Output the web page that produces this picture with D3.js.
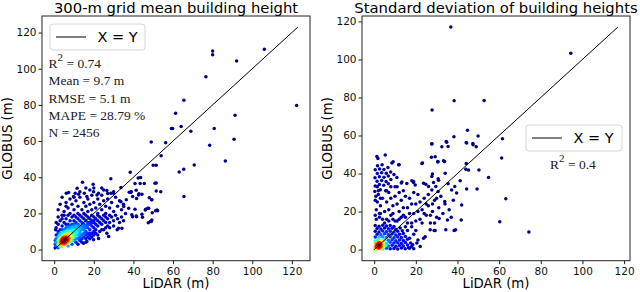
<!DOCTYPE html>
<html>
<head>
<meta charset="utf-8">
<script src="https://cdn.jsdelivr.net/npm/d3@7"></script>
<style>
  body { margin: 0; background: #fff; }
  text { font-family: "DejaVu Sans", sans-serif; }
</style>
</head>
<body>
<div id="chart"></div>
<script>
// tick values (same on both axes, both panels)
var tickVals = [0, 20, 40, 60, 80, 100, 120];

// panel titles and labels
var titles = ["300-m grid mean building height", "Standard deviation of building heights"];
var xLabel = "LiDAR (m)";
var yLabel = "GLOBUS (m)";

// statistics shown in the panels
var meanStats = [["R", "2", " = 0.74"], ["Mean = 9.7 m"], ["RMSE = 5.1 m"], ["MAPE = 28.79 %"], ["N = 2456"]];
var stdStats = [["R", "2", " = 0.4"]];

// [LiDAR, GLOBUS] - scattered points
var meanOutliers = [
  [80,109.8],[80,107.7],[106.1,110.7],[92.1,104.3],[76.6,95.6],[122.4,79.6],[65.5,82.5],[61.3,75.4],
  [91.3,74.3],[59.2,66.9],[59.8,66.9],[64.1,68],[69,65.4],[80.8,67],[90.8,61],[78.5,57.7],[49,59.5],
  [56.3,59],[54,51.9],[86.4,49],[70.7,46.8],[50,46.6],[51.5,46.6],[65.4,44.4],[63.1,42.9],[42.4,39.6],
  [43.6,39.8],[40.8,36.5],[43.4,36.6],[45.5,36.5],[51.5,36.8],[41.4,32.8],[51.5,32.4],[53.8,32],
  [38.7,31.7],[42.8,30.8],[65.5,29.3],[39.6,29.3],[41.6,28.2],[48,28.7],[49.2,27.6],[38.4,42.8],
  [28.6,39.1],[14.3,37.2],[19.7,36.1],[50.9,36.7],[33.7,34.3],[11.6,33.9],[40.8,22.3],[46.2,22.3],
  [47.2,22.9],[51.2,21.5],[52.2,21.5],[49.5,20.4],[39.6,18.2],[41.6,18.2],[44.6,17.9],[49,15.5],
  [47.5,14.9],[0.7,10.9],[37.9,31.7],[38.9,32],[42.6,30.2],[44.3,30.6],[49.3,27.5],[51.9,21.9],
  [46,21.9],[47.7,22.9],[48.5,15.5],[49.3,16.4],[44.3,19.6],[41.4,18.6],[39.2,19.2],[37.6,22.9],
  [35.1,23.8],[36.4,27.5],[32.5,11.8],[34.2,11.8],[31.8,10.9],[26.6,9],[27.5,7.2],[19.9,5.4],
  [22.4,6.1],[14.8,3.5],[16.5,4.4],[13.1,5.4],[6.1,31.2],[7.3,31.5],[10.6,31.2],[12.3,30.6],
  [9.8,29.3],[15.2,31.2],[16.5,29.3],[19.9,32],[21.6,30.2],[22.4,31.2],[26.6,32.6],[28.6,31.2],
  [30,31.2],[33.7,26.5]
];

// [LiDAR, GLOBUS] left panel - main cloud
var meanCloud = [
  [2,22],[3,25],[4,29],[5,21],[6,26],[7,23],[8,28],[8,20],[9,25],[10,22],[11,27],[12,24],[12,20],
  [13,29],[14,22],[15,26],[15,20],[16,24],[17,28],[17,21],[18,25],[19,22],[19,30],[20,26],[21,23],
  [22,28],[22,20],[23,25],[24,22],[24,30],[25,27],[26,24],[26,20],[27,28],[28,23],[29,26],[30,21],
  [31,29],[32,24],[33,27],[34,22],[35,25],[36,20],[30,32],[27,31],[20,34],[18,33],[13,32],[16,34],
  [10,29],[6,24],[4,19],[25,33],[24,34],
  [1,12],[1,15],[2,10],[2,14],[2,18],[3,11],[3,16],[4,13],[4,17],[5,10],[5,15],[5,19],[6,12],[6,17],
  [7,10],[7,14],[7,19],[8,12],[8,16],[9,11],[9,14],[9,18],[10,10],[10,13],[10,16],[10,19],[11,12],
  [11,15],[11,18],[12,11],[12,14],[12,17],[13,10],[13,13],[13,16],[13,19],[14,12],[14,15],[14,18],
  [15,11],[15,14],[15,17],[16,10],[16,13],[16,16],[16,19],[17,12],[17,15],[17,18],[18,11],[18,14],
  [18,17],[19,13],[19,16],[19,19],[20,12],[20,15],[20,18],[21,14],[21,17],[22,13],[22,16],[22,19],
  [23,15],[23,18],[24,14],[24,17],[25,16],[25,19],[26,15],[26,18],[27,17],[28,15],[28,19],[29,18],
  [30,16],[31,19],[32,17],[33,15],[34,18],[30,13],[27,13],[24,11],[21,11],[18,9],[35,16],
  [0.5,1],[1,2],[1,4],[1,6],[1,8],[2,1],[2,3],[2,5],[2,7],[2,9],[3,2],[3,4],[3,6],[3,8],[4,2],[4,3],
  [4,5],[4,7],[4,9],[5,3],[5,4],[5,6],[5,8],[6,3],[6,5],[6,7],[6,9],[7,4],[7,6],[7,8],[8,4],[8,6],
  [8,8],[9,5],[9,7],[9,9],[10,5],[10,7],[10,9],[11,6],[11,8],[12,6],[12,8],[13,5],[13,7],[13,9],
  [14,6],[14,8],[15,7],[15,9],[16,6],[16,8],[17,7],[17,9],[18,6],[18,8],[19,7],[19,9],[20,8],[21,9],
  [22,8],[23,10],[25,11],[26,12],[28,12],[20,10],[16,4],[14,4],[11,4],[12,3],[9,3],[7,2],[0.5,3],[0.5,5],
  [11,11],[12,12],[13,12],[14,13],[15,13],[13,11],[9,12],[8,10],[7,11],[6,10],[8,13],[10,12],[12,13],
  [14,11],[16,12],[17,14],[18,15],[19,15],[20,16],[15,12],[10,14],[7,12],[5,11],[6,14],[3,9],[4,11]
];

// [LiDAR, GLOBUS] left panel - dense core near the origin
var meanCore = [
  [2.5,2],[3,2.5],[3.5,3],[4,3.5],[4.5,4],[5,4.5],[5.5,5],[6,5.5],[6.5,6],[7,6.5],[3,3.5],[3.5,4],
  [4,4.5],[4.5,5],[5,5.5],[5.5,6],[6,6.5],[4,2.5],[4.5,3],[5,3.5],[5.5,4],[6,4.5],[6.5,5],[7,5.5],
  [7.5,6],[8,7],[8.5,7.5],[9,8],[3.5,2],[5,2.5],[6,3.5],[7,4.5],[8,5.5],[9,6.5],[10,8],[2,2.5],
  [2.5,3.5],[3,4.5],[3.5,5.5],[4,6],[4.5,6.5],[5,7],[6,8],[7,7.5],[8,9],[10,10.5],[11,10],[12,10.5],
  [9,10],[11,9],[4.8,4.8],[5.2,5.2],[4.2,4.2],[5.8,5.8],[3.8,3.8],[6.3,6.3],[5,5],[4.5,4.5],[5.5,5.5],[6,6]
];

// [LiDAR, GLOBUS] right panel - scattered points
var stdOutliers = [
  [36.8,117.1],[94.4,103.2],[27.8,73.4],[38.4,78.3],[52.8,78.4],[27.6,55.5],[38.3,59.3],[44.8,62.8],
  [49.9,59.7],[44.2,56.3],[47.4,55.8],[49,54.1],[61.6,58.3],[32.5,54.1],[34.6,56.8],[29.3,48.8],
  [30.6,46.3],[33.8,46.3],[22.9,45.3],[44.2,45.3],[44,42.3],[61.2,48.2],[50.3,41.8],[54.9,37.9],
  [41.3,36.2],[30.9,36.5],[12,44.6],[9.1,46.2],[5.3,49.8],[1.8,47.9],[18.1,36.2],[18.9,35.3],
  [15.7,34.7],[10.9,37.9],[13.3,35.6],[24.8,34.4],[28.5,35.3],[63.2,26.7],[60.3,14.7],[74.3,9.2],
  [49.4,31.9],[42,23.5],[41.8,15.6],[39.1,10.4],[38.4,10],[35.2,15.6],[34.4,10.4],[28.8,10],
  [31.2,16.3],[33.9,25.3],[30.7,30.5],[29.6,33.2],[30.7,37.2],[39.6,29.7],[38.7,33.2],[37.2,31.4],
  [44.4,31.8],[35.5,34.6],[27.7,38.4],[27.5,48.6],[23.2,45.5],[27.8,55.6],[34.8,56.5],[35.5,54.2],
  [44.4,56],[47.5,55.1],[1.3,48.9],[30.6,46],[33.3,46.7],[28,39.7],[34.1,40.2],[45.3,41.9],
  [8.5,45.5],[11.7,44.6],[18.9,35.8],[19.7,34],[23.7,34.9],[26.1,33.2],[27.7,31.4],[26.9,10.4],
  [29.3,10],[23.7,6],[24.5,6.8],[20.5,3.4],[22.1,1.6]
];

// [LiDAR, GLOBUS] right panel - cluster around GLOBUS = 40 and sparse middle
var stdCloud = [
  [0.5,33.5],[2.5,34.2],[4.6,33.8],[6.8,34.6],[1.4,35.9],[3.6,36.3],[5.7,35.8],[8,36.9],[0.4,37.8],
  [2.5,38.3],[4.7,38],[6.8,38.7],[1.5,40],[3.6,40.4],[5.8,40.1],[7.9,40.8],[0.5,42],[2.6,42.4],
  [4.7,42.1],[6.6,43.2],[1.6,44.1],[3.8,44.6],[9.5,39.5],[0.3,30.5],[3,31.5],[5.5,31],
  [0.5,18],[1,21],[1.5,25],[0.8,28],[2,31],[2.5,19],[1,16],[3,23],[0.5,26],[2,29],[1.5,33],[3,27],[2.5,17],
  [4,16],[5,20],[6,25],[7,30],[8,18],[9,23],[10,28],[11,15],[12,20],[13,26],[14,31],[15,17],[16,22],
  [17,27],[18,14],[19,19],[20,24],[21,29],[22,16],[23,21],[24,27],[25,18],[26,23],[27,14],[28,20],
  [29,26],[30,17],[31,22],[32,28],[33,19],[34,24],[36,21],[38,26],[37,17],[5,14],[7,21],[8,27],[9,16],
  [10,33],[11,24],[12,30],[13,17],[14,22],[15,28],[16,14],[17,19],[18,24],[19,30],[20,15],[21,20],
  [22,25],[23,14],[24,19],[25,24],[26,29],[27,18],[28,24],[29,14],[30,27],[6,31],[4,27],[3,19],[8,33],
  [13,35],[11,33],[6,16],[7,15],[9,19],[10,15],[12,16],[14,18],
  [16.5,1],[18.5,2.5],[17,6],[19,8],[21,5],[16,10],[18,12],[20,10],[15,12]
];

// [LiDAR, GLOBUS] right panel - dense block near the origin
var stdCore = [
  [0.5,0.4],[2.3,0.6],[4.1,0.3],[5.9,0.7],[7.7,0.4],[9.5,0.6],[11.3,0.3],[13.1,0.8],[14.9,0.5],[17,0.7],[19,0.4],
  [1.4,2.1],[3.2,1.8],[5,2.2],[6.8,1.9],[8.6,2.3],[10.4,1.7],[12.2,2.2],[14,1.9],[16,2.4],[18,1.6],
  [0.5,3.6],[2.3,3.4],[4.1,3.7],[5.9,3.3],[7.7,3.8],[9.5,3.4],[11.3,3.6],[13.1,3.2],[15,3.7],[17.5,3.5],
  [1.4,5.1],[3.2,4.8],[5,5.3],[6.8,4.9],[8.6,5.2],[10.4,4.7],[12.2,5.1],[14,4.8],[16,5.4],
  [0.5,6.6],[2.3,6.3],[4.1,6.8],[5.9,6.4],[7.7,6.7],[9.5,6.2],[11.3,6.6],[13.1,6.3],[15,6.9],
  [1.4,8.1],[3.2,7.8],[5,8.3],[6.8,7.9],[8.6,8.2],[10.4,7.7],[12.2,8.1],[14,8.4],
  [0.5,9.6],[2.3,9.3],[4.1,9.8],[5.9,9.4],[7.7,9.7],[9.5,9.2],[11.3,9.6],[13.5,9.9],
  [1.4,11.1],[3.2,10.8],[5,11.3],[6.8,10.9],[8.6,11.2],[10.4,10.7],[12.5,11.4],
  [0.5,12.6],[2.3,12.3],[4.1,12.8],[5.9,12.4],[7.7,12.7],[9.5,12.2],
  [0.3,0.3],[0.6,0.8],[1,0.5],[1.2,1.2],[0.8,1.6],[1.6,0.9],[2,1.5],[1.5,2],[2.4,2.2],[0.4,2],
  [2.6,0.6],[3,1.2],[1.8,2.8],[0.7,1.1],[1.1,0.2],[1.4,1.5],[2.2,1],[0.2,1.4],[3.2,2.8],[2.8,3.4],
  [1,3],[4,1.5],[3.6,0.4],[0.5,4.5],[1.8,4],[4.4,3],[2,5.5],[5.5,2],[3.5,4.5],[4.5,4.8]
];

// axis limits of each panel (data range plus matplotlib's 5% margin) and X = Y line end
var meanDomain = [-6.15, 129.15], meanLineMax = 123;
var stdDomain = [-5.85, 122.85], stdLineMax = 117;

var W = 640, H = 292;
var svg = d3.select("#chart").append("svg")
    .attr("width", W)
    .attr("height", H);

// matplotlib 'jet'
function jet(t) {
    var c = function(v) { return Math.max(0, Math.min(1, v)); };
    var r = c(1.5 - Math.abs(4 * t - 3)),
        g = c(1.5 - Math.abs(4 * t - 2)),
        b = c(1.5 - Math.abs(4 * t - 1));
    return d3.rgb(r * 255, g * 255, b * 255).toString();
}

var panels = [
    { left: 42, title: titles[0], pts: meanOutliers.concat(meanCloud, meanCore), domain: meanDomain,
      lineMax: meanLineMax, gamma: 1.5 },
    { left: 362, title: titles[1], pts: stdOutliers.concat(stdCloud, stdCore), domain: stdDomain,
      lineMax: stdLineMax, gamma: 1.9 }
];

var pw = 268, plotTop = 16, plotBottom = 260.7;

panels.forEach(function(p) {
    var x = d3.scaleLinear().domain(p.domain).range([p.left, p.left + pw]);
    var y = d3.scaleLinear().domain(p.domain).range([plotBottom, plotTop]);
    var g = svg.append("g");

    // density of each point (gaussian kernel, in pixels)
    var px = p.pts.map(function(d) { return { sx: x(d[0]), sy: y(d[1]), d: d }; });
    var sig = 4.5;
    px.forEach(function(a) {
        var s = 0;
        px.forEach(function(b) {
            var dx = a.sx - b.sx, dy = a.sy - b.sy;
            s += Math.exp(-(dx * dx + dy * dy) / (2 * sig * sig));
        });
        a.dens = s;
    });
    var maxD = d3.max(px, function(a) { return a.dens; });
    var minD = d3.min(px, function(a) { return a.dens; });
    px.sort(function(a, b) { return a.dens - b.dens; });

    g.selectAll("circle").data(px).enter().append("circle")
        .attr("cx", function(a) { return x(a.d[0]); })
        .attr("cy", function(a) { return y(a.d[1]); })
        .attr("r", 1.75)
        .style("fill", function(a) {
            var t = (a.dens - minD) / (maxD - minD);
            return jet(Math.pow(t, p.gamma));
        });

    // X = Y line
    g.append("line")
        .attr("x1", x(0)).attr("y1", y(0))
        .attr("x2", x(p.lineMax)).attr("y2", y(p.lineMax))
        .style("stroke", "#000").style("stroke-width", 1);

    // frame
    g.append("rect")
        .attr("x", p.left).attr("y", plotTop)
        .attr("width", pw).attr("height", plotBottom - plotTop)
        .style("fill", "none").style("stroke", "#222").style("stroke-width", 1);

    var xAxis = g.append("g").attr("transform", "translate(0," + plotBottom + ")")
        .call(d3.axisBottom(x).tickValues(tickVals).tickSize(3.5).tickPadding(3.5));
    var yAxis = g.append("g").attr("transform", "translate(" + p.left + ",0)")
        .call(d3.axisLeft(y).tickValues(tickVals).tickSize(3.5).tickPadding(2));
    [xAxis, yAxis].forEach(function(a) {
        a.select(".domain").remove();
        a.selectAll("text").style("font-size", "10.5px").style("font-family", "DejaVu Sans").style("fill", "#111");
        a.selectAll("line").style("stroke", "#222");
    });

    // title and labels
    g.append("text")
        .attr("x", p.left + pw / 2).attr("y", 13)
        .attr("text-anchor", "middle")
        .style("font-size", "14.8px")
        .text(p.title);
    g.append("text")
        .attr("x", p.left + pw / 2).attr("y", 288)
        .attr("text-anchor", "middle")
        .style("font-size", "13.3px")
        .text(xLabel);
    g.append("text")
        .attr("transform", "translate(" + (p.left - 30.5) + "," + ((plotTop + plotBottom) / 2) + ") rotate(-90)")
        .attr("text-anchor", "middle")
        .style("font-size", "13.3px")
        .text(yLabel);
});

// legends
function legend(bx, by, bw, bh) {
    svg.append("rect")
        .attr("x", bx).attr("y", by).attr("width", bw).attr("height", bh)
        .attr("rx", 3)
        .style("fill", "#fff").style("fill-opacity", 0.85)
        .style("stroke", "#d6d6d6").style("stroke-width", 1);
    svg.append("line")
        .attr("x1", bx + 6).attr("x2", bx + 36)
        .attr("y1", by + bh / 2).attr("y2", by + bh / 2)
        .style("stroke", "#000").style("stroke-width", 1);
    svg.append("text")
        .attr("x", bx + 47.5).attr("y", by + bh / 2 + 5.3)
        .style("font-size", "14.5px")
        .text("X = Y");
}
legend(50, 24, 95, 26);
legend(526, 125, 96, 26);

// statistics (serif)
function stats(lines, sx, sy, step) {
    lines.forEach(function(l, i) {
        var t = svg.append("text")
            .attr("x", sx).attr("y", sy + i * step)
            .style("font-family", "'Liberation Serif', 'Times New Roman', serif")
            .style("font-size", "13.5px")
            .style("fill", "#222");
        t.append("tspan").text(l[0]);
        if (l.length > 1) {
            t.append("tspan").attr("dy", -7).style("font-size", "11px").text(l[1]);
            t.append("tspan").attr("dy", 7).text(l[2]);
        }
    });
}
stats(meanStats, 48.5, 68.3, 17.1);
stats(stdStats, 550, 169, 17);
</script>
</body>
</html>
